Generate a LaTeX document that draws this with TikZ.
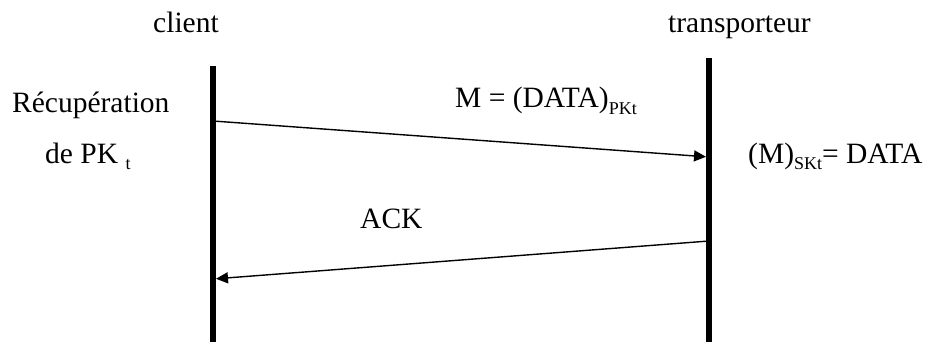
\documentclass[tikz,border=0pt]{standalone}
\usepackage{fontspec}
\setmainfont{Liberation Serif}
\usepackage{tikz}
\usetikzlibrary{arrows.meta}
\definecolor{inkBlack}{HTML}{000000}
\newcommand{\lowsub}[1]{\raisebox{-0.45ex}{\fontsize{18}{18}\selectfont #1}}
\tikzset{
  lifeline/.style = {draw=inkBlack, line width=6pt},
  msg/.style      = {-{Triangle[length=12pt, width=11pt]}, draw=inkBlack, line width=1.4pt, shorten >=3pt, shorten <=3pt},
  txt/.style      = {anchor=base west, inner sep=0pt, text=inkBlack, font=\fontsize{29.5}{34}\selectfont}
}

\begin{document}
\begin{tikzpicture}[x=1pt, y=-1pt]
  \useasboundingbox (0,0) rectangle (931,342);

  % the two actors
  \coordinate (cTop) at (213,66);
  \coordinate (cBot) at (213,342);
  \coordinate (tTop) at (709,58);
  \coordinate (tBot) at (709,342);
  \foreach \a/\b in {cTop/cBot, tTop/tBot} \draw[lifeline] (\a) -- (\b);

  \node[txt] (client) at (153,33) {client};
  \node[txt] (transp) at (668,33) {transporteur};

  % message ends on the lifelines
  \coordinate (c1) at (213,121);
  \coordinate (t1) at (709,157);
  \coordinate (t2) at (709,241);
  \coordinate (c2) at (213,279);

  \draw[msg] (c1) -- (t1);
  \draw[msg] (t2) -- (c2);

  \node[txt] (recup) at (12,113) {Récupération};
  \node[txt] (depk)  at (45,163) {de PK \lowsub{t}};
  \node[txt] (mdata) at (455,108) {M = (DATA)\lowsub{PKt}};
  \node[txt] (msk)   at (748,163) {(M)\lowsub{SKt}= DATA};
  \node[txt] (ack)   at (360,228) {ACK};
\end{tikzpicture}
\end{document}
